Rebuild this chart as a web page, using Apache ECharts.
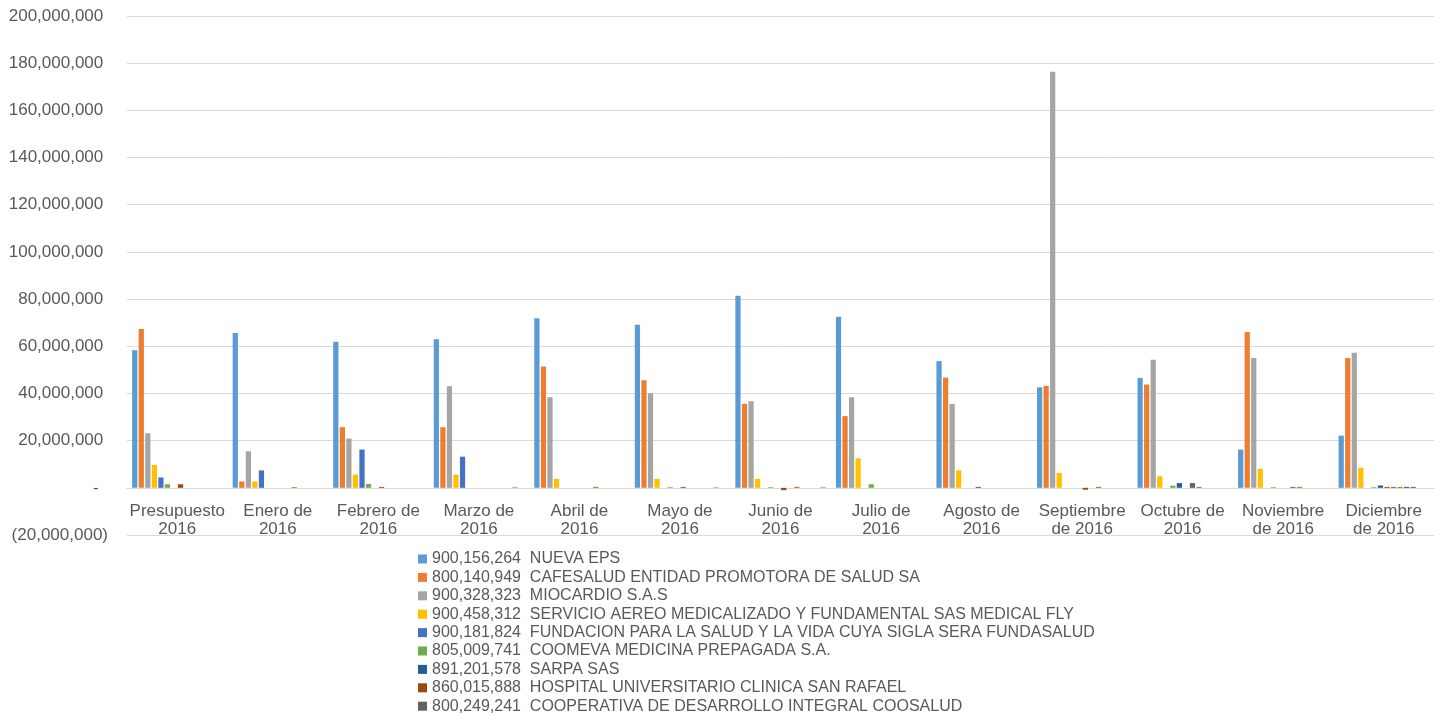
<!DOCTYPE html>
<html>
<head>
<meta charset="utf-8">
<title>Pagos por entidad 2016</title>
<script src="https://cdn.jsdelivr.net/npm/echarts@6/dist/echarts.min.js"></script>
<style>
  html, body {margin: 0; padding: 0; background: #fff;}
  #myChart {width: 1439px; height: 715px;}
</style>
</head>
<body>
<div id="myChart"></div>
<script>
  // categorias del eje x
  var meses = ['Presupuesto\n2016', 'Enero de\n2016', 'Febrero de\n2016', 'Marzo de\n2016', 'Abril de\n2016',
    'Mayo de\n2016', 'Junio de\n2016', 'Julio de\n2016', 'Agosto de\n2016', 'Septiembre\nde 2016',
    'Octubre de\n2016', 'Noviembre\nde 2016', 'Diciembre\nde 2016'];

  // nombres de las entidades (solo las 9 primeras salen en la leyenda)
  var entidades = [
    '900,156,264  NUEVA EPS',
    '800,140,949  CAFESALUD ENTIDAD PROMOTORA DE SALUD SA',
    '900,328,323  MIOCARDIO S.A.S',
    '900,458,312  SERVICIO AEREO MEDICALIZADO Y FUNDAMENTAL SAS MEDICAL FLY',
    '900,181,824  FUNDACION PARA LA SALUD Y LA VIDA CUYA SIGLA SERA FUNDASALUD',
    '805,009,741  COOMEVA MEDICINA PREPAGADA S.A.',
    '891,201,578  SARPA SAS',
    '860,015,888  HOSPITAL UNIVERSITARIO CLINICA SAN RAFAEL',
    '800,249,241  COOPERATIVA DE DESARROLLO INTEGRAL COOSALUD',
    'Entidad 10', 'Entidad 11', 'Entidad 12', 'Entidad 13', 'Entidad 14'
  ];

  // valores (pesos)
  var nuevaEps    = [58300000, 65600000, 61900000, 63000000, 71900000, 69100000, 81400000, 72500000, 53700000, 42600000, 46600000, 16200000, 22100000];
  var cafesalud   = [67300000, 2700000, 25700000, 25700000, 51400000, 45600000, 35600000, 30400000, 46700000, 43200000, 43800000, 66000000, 55000000];
  var miocardio   = [23100000, 15500000, 20900000, 43100000, 38400000, 40100000, 36700000, 38400000, 35600000, 176400000, 54300000, 55000000, 57300000];
  var medicalFly  = [9700000, 2700000, 5600000, 5600000, 3800000, 3800000, 3800000, 12500000, 7400000, 6300000, 4900000, 8000000, 8500000];
  var fundasalud  = [4400000, 7400000, 16200000, 13200000, null, null, null, null, null, null, null, null, null];
  var coomeva     = [1500000, null, 1600000, null, null, 300000, 300000, 1500000, null, null, 900000, 300000, 300000];
  var sarpa       = [null, null, null, null, null, null, null, null, 400000, null, 2000000, null, 1000000];
  var sanRafael   = [1500000, null, 400000, null, null, 400000, -1000000, null, null, -800000, null, null, 400000];
  var coosalud    = [null, null, null, null, null, null, null, null, null, null, 2000000, 400000, 400000];
  var entidad10   = [null, 300000, null, null, 400000, null, 400000, null, null, 400000, 400000, 400000, 400000];
  var entidad11   = [null, null, null, null, null, null, null, null, null, null, null, null, 400000];
  var entidad12   = [null, null, null, null, null, null, null, null, null, null, null, null, 400000];
  var entidad13   = [null, null, null, 400000, null, 300000, null, null, null, null, null, null, null];
  var entidad14   = [null, null, null, null, null, null, 400000, null, null, null, null, null, null];

  var valores = [nuevaEps, cafesalud, miocardio, medicalFly, fundasalud, coomeva, sarpa, sanRafael,
    coosalud, entidad10, entidad11, entidad12, entidad13, entidad14];

  // paleta de Office
  var colores = ['#5B9BD5', '#ED7D31', '#A5A5A5', '#FFC000', '#4472C4', '#70AD47', '#255E91', '#9E480E',
    '#636363', '#997300', '#264478', '#43682B', '#7CAFDD', '#F1975A'];

  var fuente = '"Liberation Sans", Arial, sans-serif';

  // formato contable: 1,000  -  (1,000)
  function formatoContable(v){
    var s = Math.abs(v).toString().replace(/\B(?=(\d{3})+(?!\d))/g, ',');
    if (v === 0) return '-  ';
    if (v < 0) return '(' + s + ')';
    return s + ' ';
  }

  var series = [];
  for (var i = 0; i < entidades.length; i++) {
    series.push({
      name: entidades[i],
      type: 'bar',
      data: valores[i],
      itemStyle: {color: colores[i]},
      barGap: '25%',
      barCategoryGap: '10.2%'
    });
  }

  var myChart = echarts.init(document.getElementById('myChart'));
  var option = {
    animation: false,
    textStyle: {fontFamily: fuente},
    grid: {left: 127, right: 5, top: 16, bottom: 180},
    legend: {
      orient: 'vertical',
      left: 418,
      top: 551,
      padding: 0,
      data: entidades.slice(0, 9),
      icon: 'rect',
      itemWidth: 9,
      itemHeight: 9,
      itemGap: 2.4,
      textStyle: {fontSize: 16, color: '#595959', lineHeight: 16, fontFamily: fuente}
    },
    xAxis: {
      type: 'category',
      data: meses,
      // el eje va en el cero, no abajo
      offset: -47,
      axisLine: {onZero: false, lineStyle: {color: '#d9d9d9'}},
      axisTick: {show: false},
      axisLabel: {fontSize: 17, color: '#595959', lineHeight: 18, margin: 14, interval: 0, fontFamily: fuente}
    },
    yAxis: {
      type: 'value',
      min: -20000000,
      max: 200000000,
      interval: 20000000,
      axisLine: {show: false},
      axisTick: {show: false},
      splitLine: {lineStyle: {color: '#d9d9d9'}},
      axisLabel: {
        fontSize: 17,
        color: '#595959',
        margin: 19,
        fontFamily: fuente,
        formatter: formatoContable
      }
    },
    series: series
  };

  myChart.setOption(option);
</script>
</body>
</html>
